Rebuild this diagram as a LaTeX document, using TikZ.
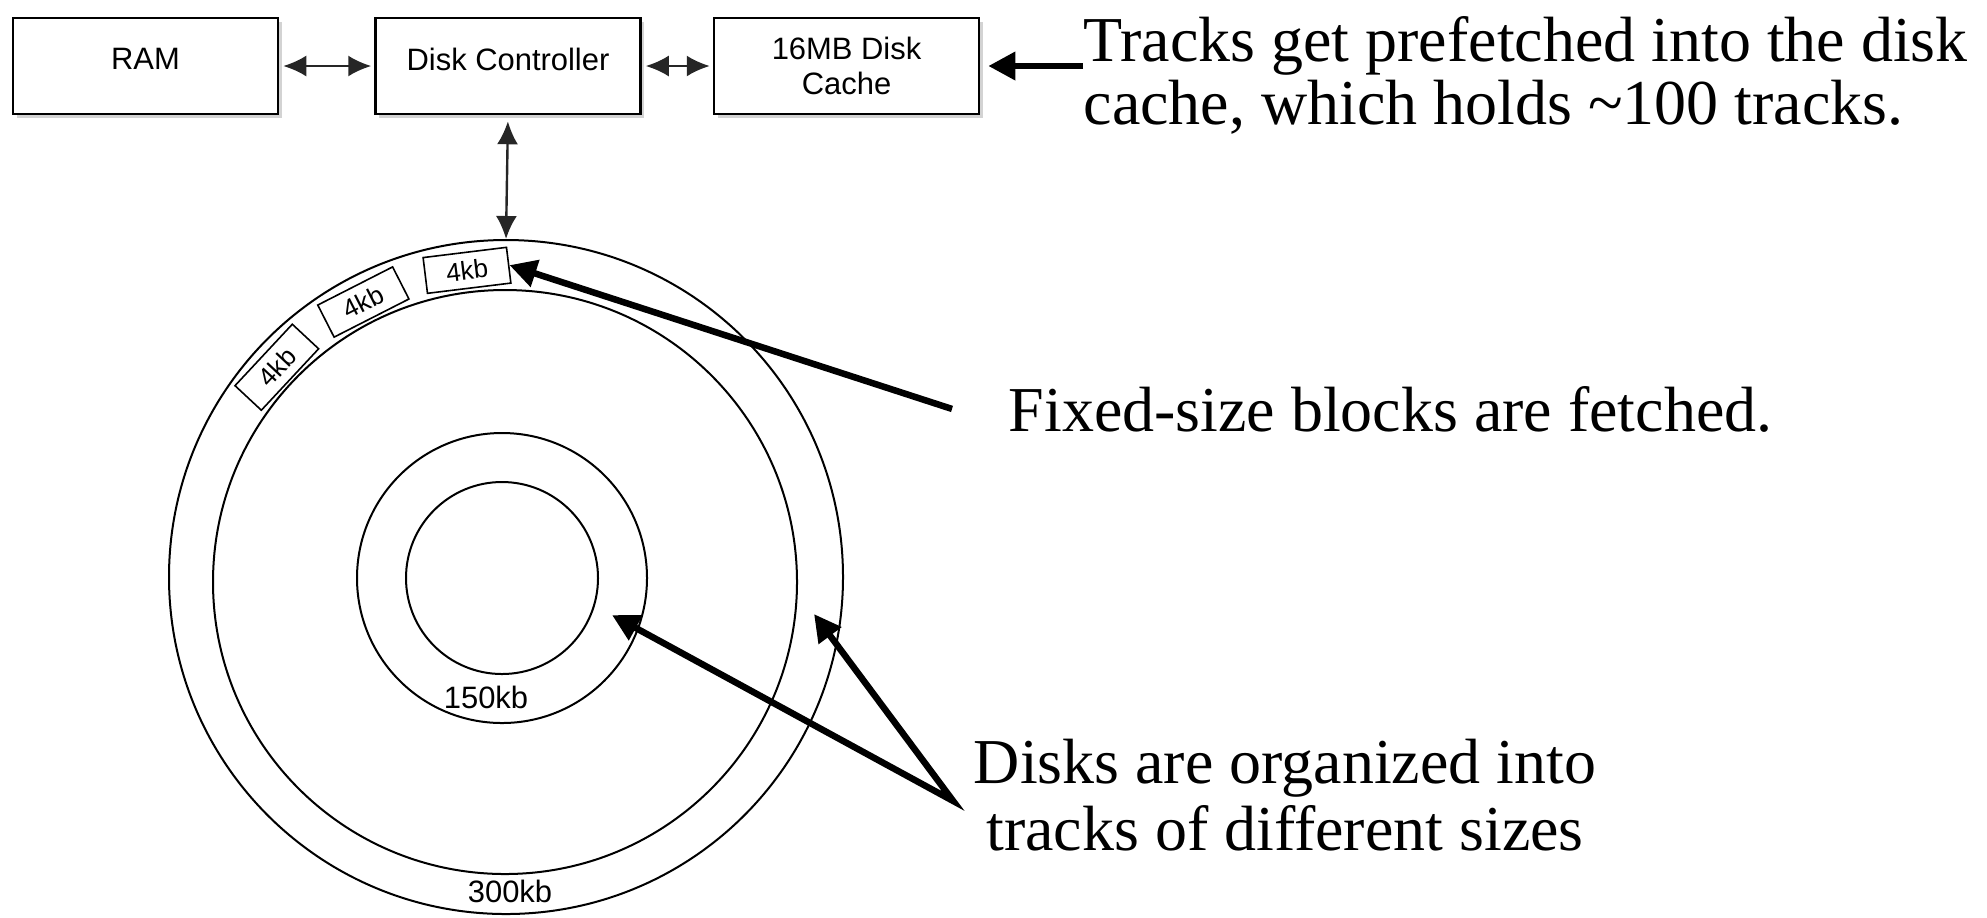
\documentclass[tikz,border=0pt]{standalone}
\usepackage{fontspec}
\setmainfont{Liberation Serif}
\newfontfamily\boxfont{Liberation Sans}
\usepackage{tikz}
\usetikzlibrary{positioning,arrows.meta,calc,shadows}
\tikzset{
  link/.style={{Latex[length=0.23cm,width=0.21cm]}-{Latex[length=0.23cm,width=0.21cm]}, line width=0.024cm, draw=black!85},
  callout/.style={-{Triangle[length=0.27cm,width=0.27cm]}, line width=0.065cm, draw=black},
  every node/.style={anchor=center}
}

\begin{document}
\begin{tikzpicture}[
  box/.style={draw, line width=0.025cm, minimum width=2.65cm, minimum height=0.96cm, align=center, fill=white,
    font=\boxfont\fontsize{8.8}{10}\selectfont, drop shadow={shadow xshift=0.035cm, shadow yshift=-0.04cm, opacity=0.35}},
  track/.style={draw, circle, line width=0.02cm, inner sep=0pt},
  blk/.style={draw, line width=0.016cm, fill=white, minimum width=0.84cm, minimum height=0.36cm, inner sep=0pt,
    font=\boxfont\fontsize{7.4}{8}\selectfont},
  klabel/.style={inner sep=0pt, font=\boxfont\fontsize{8.8}{10}\selectfont},
  note/.style={inner sep=0pt, font=\fontsize{18.2}{17.8}\selectfont}
]
\useasboundingbox (0,0) rectangle (19.87,-9.17);

% memory path
\node[box, text depth=0.14cm] (ram) at (1.455,-0.66) {RAM};
\node[box, text depth=0.14cm, right=0.95cm of ram] (dc) {Disk Controller};
\node[box, right=0.71cm of dc] (cache) {16MB Disk\\Cache};

% the disk
\coordinate (hub) at (5.05,-5.80);
\node[track, minimum size=6.74cm] (outer) at (5.06,-5.77) {};
\node[track, minimum size=5.84cm] (trk) at (5.05,-5.82) {};
\node[track, minimum size=2.90cm] (trk150) at (5.02,-5.78) {};
\node[track, minimum size=1.92cm] (core) at (5.02,-5.78) {};
\node[blk, rotate=7] (blk1) at ($(hub)+(97:3.12)$) {4kb};
\node[blk, rotate=27] (blk2) at ($(hub)+(117:3.12)$) {4kb};
\node[blk, rotate=47] (blk3) at ($(hub)+(137:3.12)$) {4kb};
\node[klabel, above=0.15cm of trk150.south, xshift=-0.16cm] (lbl150) {150kb};
\node[klabel, above=0.12cm of outer.south, xshift=0.04cm] (lbl300) {300kb};

% notes
\node[note, anchor=north west, align=left] (tracks) at (10.83,-0.16) {Tracks get prefetched into the disk\\cache, which holds \textasciitilde100 tracks.};
\node[note, anchor=base west] (fixed) at (10.08,-4.31) {Fixed-size blocks are fetched.};
\node[note, anchor=north, align=center, font=\fontsize{18.2}{19.2}\selectfont] (disks) at (12.85,-7.38) {Disks are organized into\\tracks of different sizes};
\coordinate (hit150) at (6.12,-6.15);
\coordinate (hit300) at (8.14,-6.14);

\draw[link, shorten <=0.04cm, shorten >=0.03cm] (ram) -- (dc);
\draw[link, shorten <=0.04cm, shorten >=0.03cm] (dc) -- (cache);
\draw[link, shorten <=0.06cm] (dc.south) -- (outer.north);
\draw[callout, shorten >=0.08cm] (tracks.west |- cache.east) -- (cache.east);
\draw[callout] ([xshift=-0.56cm]fixed.west) -- (blk1.east);
\draw[callout, {Triangle[length=0.27cm,width=0.27cm]}-{Triangle[length=0.27cm,width=0.27cm]}] (hit150) -- ([xshift=-0.2cm,yshift=-0.06cm]disks.west) -- (hit300);
\end{tikzpicture}
\end{document}
